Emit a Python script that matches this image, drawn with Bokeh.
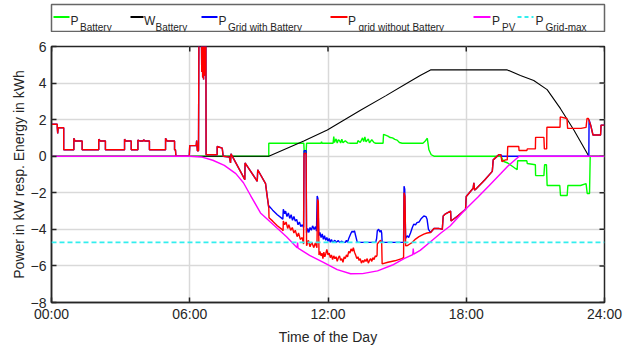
from bokeh.plotting import figure
from bokeh.models import Range1d, FixedTicker, Span
from bokeh.layouts import column
from bokeh.embed import file_html
from bokeh.resources import INLINE
from bokeh.core.properties import value

# ---------------- data (hours of day, kW / kWh) ----------------
x_ticks = [0, 6, 12, 18, 24]
x_tick_labels = ["00:00", "06:00", "12:00", "18:00", "24:00"]
y_ticks = [-8, -6, -4, -2, 0, 2, 4, 6]

legend_main = ["P", "W", "P", "P", "P", "P"]
legend_sub = ["Battery", "Battery", "Grid with Battery", "grid without Battery", "PV", "Grid-max"]

# grid power, identical for both grid series (night / morning)
grid_night = [
    (0.00, 1.75), (0.25, 1.75), (0.25, 1.56), (0.27, 1.25), (0.29, 1.56), (0.53, 1.56), (0.53, 0.35),
    (0.97, 0.35), (0.97, 0.98), (1.02, 0.83), (1.33, 0.83), (1.33, 0.35),
    (2.05, 0.35), (2.05, 0.93), (2.12, 0.83), (2.34, 0.83), (2.34, 0.35),
    (3.17, 0.35), (3.17, 0.93), (3.22, 0.83), (3.46, 0.83), (3.46, 0.35),
    (3.75, 0.35), (3.75, 0.88), (3.85, 0.83), (3.98, 0.83), (4.00, 0.90), (4.05, 0.83), (4.25, 0.83), (4.25, 0.35),
    (4.95, 0.35), (4.95, 0.98), (5.02, 0.83), (5.34, 0.83), (5.34, 0.35), (5.38, 0.35), (5.40, 0.0),
    (5.98, 0.0), (6.00, 0.58), (6.28, 0.58), (6.30, 0.85), (6.33, 0.30), (6.38, 0.30),
    (6.40, 7.5), (6.50, 7.5), (6.52, 4.6), (6.54, 7.5), (6.56, 4.3), (6.58, 7.5), (6.60, 4.2),
    (6.62, 7.5), (6.64, 4.4), (6.66, 7.5), (6.68, 4.8), (6.70, 7.5), (6.71, 0.08),
    (7.19, 0.08), (7.19, 0.53), (7.41, 0.44), (7.45, 0.0), (7.72, -0.05), (7.77, -0.37), (7.79, 0.13),
    (8.20, -0.83), (8.39, -1.28), (8.40, -0.37), (8.93, -1.37), (8.95, -0.74), (9.29, -1.50),
    (9.36, -2.18), (9.43, -2.81),
]

# grid power without battery, midday
red_mid = [
    (9.43, -2.81), (9.44, -3.36), (9.60, -3.55), (9.80, -3.80), (10.00, -4.00), (10.05, -4.08),
    (10.06, -3.54), (10.12, -3.75), (10.18, -3.60), (10.25, -3.95), (10.30, -3.75), (10.38, -4.05),
    (10.45, -3.90), (10.52, -4.20), (10.58, -4.05), (10.66, -4.40), (10.72, -4.20), (10.80, -4.55),
    (10.88, -4.45), (10.94, -4.80), (10.96, 0.15), (11.05, 0.15), (11.07, -4.90), (11.15, -4.60),
    (11.22, -4.95), (11.30, -4.70), (11.38, -5.00), (11.45, -4.75), (11.52, -5.00), (11.55, -2.36),
    (11.58, -2.50), (11.61, -5.40), (11.65, -5.20), (11.70, -5.45), (11.74, -5.30), (11.78, -5.60),
    (11.82, -5.25), (11.86, -5.50), (11.90, -5.35), (11.95, -5.10), (12.00, -5.40), (12.05, -5.30),
    (12.10, -5.55), (12.15, -5.40), (12.20, -5.65), (12.25, -5.45), (12.30, -5.60), (12.35, -5.50),
    (12.40, -5.75), (12.45, -5.55), (12.50, -5.45), (12.55, -5.70), (12.60, -5.60), (12.65, -5.80),
    (12.70, -5.50), (12.75, -5.60), (12.80, -5.40), (12.85, -5.50), (12.90, -5.20), (12.95, -5.30),
    (13.00, -5.07), (13.05, -5.20), (13.10, -5.00), (13.15, -5.25), (13.20, -5.40), (13.25, -5.60),
    (13.30, -5.50), (13.35, -5.70), (13.40, -5.60), (13.45, -5.85), (13.50, -5.70), (13.55, -5.80),
    (13.60, -5.65), (13.65, -5.75), (13.70, -5.60), (13.75, -5.85), (13.80, -5.70), (13.85, -5.60),
    (13.90, -5.75), (13.95, -5.55), (14.00, -5.65), (14.05, -5.45), (14.10, -5.50), (14.13, -5.40),
    (14.14, -4.80), (14.20, -4.70), (14.28, -4.60), (14.33, -4.75), (14.35, -5.89), (14.60, -5.80),
    (14.90, -5.72), (15.20, -5.60), (15.28, -5.55), (15.30, -2.00), (15.34, -2.20), (15.37, -4.90),
    (15.44, -4.89), (15.55, -4.80), (15.66, -4.71), (15.80, -4.53), (15.95, -4.40), (16.16, -4.26),
    (16.30, -4.20), (16.45, -4.17),
]

# grid power with battery, midday
blue_mid = [
    (9.43, -2.81), (9.44, -2.72), (9.60, -2.95), (9.80, -3.20), (10.00, -3.40), (10.04, -3.45),
    (10.06, -2.90), (10.12, -3.15), (10.16, -3.00), (10.22, -3.30), (10.28, -3.10), (10.34, -3.40),
    (10.40, -3.20), (10.46, -3.50), (10.52, -3.30), (10.58, -3.55), (10.64, -3.45), (10.70, -3.75),
    (10.76, -3.60), (10.82, -3.85), (10.88, -3.75), (10.94, -3.90), (10.96, 0.30), (11.05, 0.30),
    (11.07, -4.20), (11.12, -3.95), (11.17, -4.17), (11.22, -3.90), (11.28, -4.05), (11.33, -3.81),
    (11.40, -4.00), (11.46, -3.85), (11.50, -4.10), (11.53, -2.18), (11.56, -2.30), (11.60, -4.35),
    (11.65, -4.17), (11.70, -4.45), (11.75, -4.25), (11.80, -4.55), (11.85, -4.35), (11.90, -4.60),
    (11.95, -4.44), (12.00, -4.65), (12.05, -4.50), (12.10, -4.71), (12.15, -4.55), (12.20, -4.71),
    (12.30, -4.60), (12.35, -4.71), (12.45, -4.62), (12.50, -4.71), (12.60, -4.65), (12.65, -4.71),
    (12.75, -4.71), (12.80, -4.60), (12.85, -4.71), (12.90, -4.50), (12.95, -4.35), (13.00, -4.20),
    (13.05, -4.10), (13.10, -4.15), (13.15, -4.08), (13.20, -4.35), (13.25, -4.60), (13.27, -4.71),
    (14.07, -4.71), (14.11, -4.50), (14.14, -4.08), (14.20, -3.99), (14.25, -4.15), (14.30, -4.05),
    (14.33, -4.20), (14.35, -4.71), (15.28, -4.71), (15.30, -1.64), (15.33, -1.80), (15.37, -4.50),
    (15.44, -4.35), (15.50, -4.45), (15.58, -4.20), (15.66, -3.90), (15.72, -3.72), (15.80, -3.75),
    (15.86, -3.63), (15.95, -3.60), (16.05, -3.40), (16.16, -3.27), (16.25, -3.30), (16.30, -3.45),
    (16.36, -4.00), (16.45, -4.17),
]

# grid power, identical for both grid series (late afternoon)
grid_evening = [
    (16.45, -4.17), (16.60, -3.95), (16.80, -3.95), (16.96, -4.00), (17.00, -3.27), (17.10, -3.15),
    (17.32, -3.00), (17.34, -3.54), (17.60, -3.30), (17.97, -2.90), (18.00, -2.20), (18.20, -1.90),
    (18.30, -1.75), (18.33, -1.46), (18.36, -1.85), (18.40, -1.82), (18.80, -1.30), (19.13, -0.83),
    (19.17, -0.20), (19.30, -0.05), (19.41, 0.08), (19.50, 0.08),
]

red_late = [
    (19.50, 0.08), (19.55, -0.29), (19.70, -0.20), (19.78, -0.20), (19.80, 0.53), (20.28, 0.53),
    (20.29, 0.31), (20.63, 0.31), (20.65, 0.40), (21.00, 0.40), (21.01, 1.03), (21.37, 1.03),
    (21.39, 0.40), (21.49, 0.40), (21.50, 1.58), (22.07, 1.58), (22.08, 2.15), (22.37, 2.06),
    (22.40, 1.52), (22.98, 1.52), (23.20, 1.58), (23.24, 2.06), (23.30, 2.06), (23.40, 1.70),
    (23.50, 1.16), (23.83, 1.16), (23.85, 1.70), (24.00, 1.70),
]

blue_late = [
    (19.50, 0.08), (19.55, 0.0), (23.32, 0.0), (23.33, 2.00), (23.40, 1.70),
    (23.50, 1.16), (23.83, 1.16), (23.85, 1.70), (24.00, 1.70),
]

battery_power = [
    (0.00, 0.0), (9.43, 0.0), (9.43, 0.71), (10.95, 0.71), (10.97, 0.17), (11.05, 0.17), (11.07, 0.71),
    (11.70, 0.71), (11.72, 0.80), (11.74, 0.71), (12.22, 0.71), (12.25, 1.07), (12.28, 0.75),
    (12.35, 0.95), (12.40, 0.72), (12.45, 0.90), (12.50, 0.85), (12.55, 0.72), (12.60, 0.93),
    (12.65, 0.74), (12.75, 0.85), (12.85, 0.73), (12.98, 0.71), (13.27, 0.71), (13.30, 0.85),
    (13.40, 0.75), (13.50, 1.00), (13.55, 0.80), (13.60, 1.05), (13.65, 0.78), (13.75, 0.95),
    (13.80, 0.73), (13.90, 0.90), (14.00, 0.74), (14.07, 0.71), (14.39, 0.71), (14.41, 1.20),
    (14.50, 1.15), (14.60, 1.10), (14.70, 1.02), (14.80, 1.00), (14.90, 0.92), (15.00, 0.88),
    (15.10, 0.75), (15.22, 0.71), (16.12, 0.71), (16.20, 0.80), (16.31, 0.98), (16.38, 0.35),
    (16.48, 0.08), (16.60, 0.0), (19.50, 0.0), (19.63, -0.29), (19.80, -0.37), (20.21, -0.74),
    (20.23, -0.25), (20.63, -0.25), (20.65, -0.40), (21.00, -0.47), (21.01, -1.06), (21.37, -1.06),
    (21.40, -0.47), (21.48, -0.47), (21.51, -1.60), (22.06, -1.60), (22.09, -2.15), (22.38, -2.15),
    (22.41, -1.60), (22.96, -1.60), (23.20, -1.50), (23.25, -2.04), (23.35, -2.04), (23.38, 0.0),
    (24.00, 0.0),
]

battery_energy = [
    (0.00, 0.0), (9.43, 0.0), (10.95, 0.83), (11.97, 1.43), (13.41, 2.51), (14.50, 3.30),
    (15.50, 4.05), (16.00, 4.41), (16.45, 4.72), (19.78, 4.72), (20.35, 4.41), (20.93, 4.14),
    (21.51, 3.64), (22.09, 2.60), (22.67, 1.43), (23.32, 0.0), (24.00, 0.0),
]

pv_power = [
    (0.00, 0.0), (6.00, 0.0), (6.50, -0.04), (7.00, -0.22), (7.50, -0.50), (8.00, -0.95),
    (8.33, -1.45), (8.64, -2.15), (9.07, -3.10), (9.50, -3.60), (9.81, -3.95), (10.20, -4.40),
    (10.66, -5.00), (10.68, -4.72), (10.70, -5.03), (11.20, -5.42), (11.80, -5.80), (12.40, -6.20),
    (12.98, -6.43), (13.50, -6.42), (14.15, -6.27), (14.80, -5.95), (15.30, -5.60), (15.68, -5.38),
    (15.70, -5.05), (15.72, -5.36), (16.00, -5.15), (16.45, -4.68), (16.90, -4.20), (17.30, -3.82),
    (17.97, -2.90), (18.50, -2.25), (19.00, -1.60), (19.50, -0.95), (19.80, -0.55), (20.30, 0.0),
    (24.00, 0.0),
]

grid_max = -4.71

# ---------------- styles ----------------
FONT = "Liberation Sans"
DARK = "#262626"
C_BAT, C_W, C_BLUE, C_RED, C_PV, C_MAX = "#00ff00", "#000000", "#0000ff", "#ff0000", "#ff00ff", "#33eeee"
FRAME_W, FRAME_H, TICK_PX = 553, 258, 5
X0, X1, Y0, Y1 = 0, 24, -8, 6


def unzip(pairs):
    return [a for a, _ in pairs], [b for _, b in pairs]


red_series = grid_night + red_mid[1:] + grid_evening[1:] + red_late[1:]
blue_series = grid_night + blue_mid[1:] + grid_evening[1:] + blue_late[1:]

# ---------------- main plot ----------------
p = figure(width=635, height=315, x_range=Range1d(X0, X1), y_range=Range1d(Y0, Y1),
           output_backend="svg", toolbar_location=None,
           min_border_left=51, min_border_right=31, min_border_top=14, min_border_bottom=43)
p.background_fill_color = "white"
p.border_fill_color = "white"
p.outline_line_color = DARK
p.outline_line_width = 1.5

xax = p.below[0]
yax = p.left[0]
xax.ticker = FixedTicker(ticks=x_ticks)
xax.major_label_overrides = {t: l for t, l in zip(x_ticks, x_tick_labels)}
yax.ticker = FixedTicker(ticks=y_ticks)
for ax in (xax, yax):
    ax.axis_line_color = DARK
    ax.axis_line_width = 1.5
    ax.major_tick_line_color = DARK
    ax.major_tick_line_width = 1.5
    ax.major_tick_in = TICK_PX
    ax.major_tick_out = 0
    ax.minor_tick_in = 0
    ax.minor_tick_out = 0
    ax.major_label_text_font = FONT
    ax.major_label_text_font_size = "14px"
    ax.major_label_text_color = DARK
    ax.axis_label_text_font = FONT
    ax.axis_label_text_font_size = "14px"
    ax.axis_label_text_font_style = "normal"
    ax.axis_label_text_color = DARK
xax.axis_label = "Time of the Day"
yax.axis_label = "Power in kW resp. Energy in kWh"
xax.major_label_standoff = 3
xax.axis_label_standoff = 4
yax.major_label_standoff = 5
yax.axis_label_standoff = 1

p.xgrid.ticker = FixedTicker(ticks=x_ticks)
p.ygrid.ticker = FixedTicker(ticks=y_ticks)
p.grid.grid_line_color = "#d9d9d9"
p.grid.grid_line_width = 1.5

# mirrored inward ticks on the right and top edges of the box
dx = TICK_PX * (X1 - X0) / FRAME_W
dy = TICK_PX * (Y1 - Y0) / FRAME_H
p.segment(x0=[X1] * len(y_ticks), y0=y_ticks, x1=[X1 - dx] * len(y_ticks), y1=y_ticks,
          line_color=DARK, line_width=1.5)
p.segment(x0=x_ticks, y0=[Y1] * len(x_ticks), x1=x_ticks, y1=[Y1 - dy] * len(x_ticks),
          line_color=DARK, line_width=1.5)

tx, vy = unzip(battery_power)
p.line(tx, vy, line_color=C_BAT, line_width=1.4)
tx, vy = unzip(battery_energy)
p.line(tx, vy, line_color=C_W, line_width=1.1)
tx, vy = unzip(blue_series)
p.line(tx, vy, line_color=C_BLUE, line_width=1.4)
tx, vy = unzip(red_series)
p.line(tx, vy, line_color=C_RED, line_width=1.4)
tx, vy = unzip(pv_power)
p.line(tx, vy, line_color=C_PV, line_width=1.4)
p.add_layout(Span(location=grid_max, dimension="width", line_color=C_MAX,
                  line_width=1.8, line_dash="5 3"))

# ---------------- legend strip (frame = legend box, data units = pixels) ----------------
lg = figure(width=635, height=32, x_range=Range1d(51, 604), y_range=Range1d(31, 4),
            output_backend="svg", toolbar_location=None,
            min_border_left=51, min_border_right=31, min_border_top=4, min_border_bottom=1,
            x_axis_location=None, y_axis_location=None)
lg.grid.visible = False
lg.outline_line_color = "#666666"
lg.outline_line_width = 1.5
lg.background_fill_color = "white"
lg.border_fill_color = "white"

sample_x0 = [53, 130, 201, 330, 473, 517]
sample_x1 = [69, 143, 217, 347, 490, 533]
main_x = [70, 143.5, 218, 347.5, 491.5, 535]
sub_x = [79.5, 155, 227.5, 358, 501.5, 545]
colors = [C_BAT, C_W, C_BLUE, C_RED, C_PV, C_MAX]
for i in range(6):
    lg.line([sample_x0[i], sample_x1[i]], [16.5, 16.5], line_color=colors[i],
            line_width=1.8, line_dash=("4 3" if i == 5 else "solid"))
lg.text(x=main_x, y=[20.8] * 6, text=legend_main, text_font=value(FONT), text_font_size="12px",
        text_baseline="alphabetic", text_color=DARK)
lg.text(x=sub_x, y=[27] * 6, text=legend_sub, text_font=value(FONT), text_font_size="10px",
        text_baseline="alphabetic", text_color=DARK)

layout = column(lg, p, spacing=0)
open("out.html", "w").write(file_html(layout, INLINE))
